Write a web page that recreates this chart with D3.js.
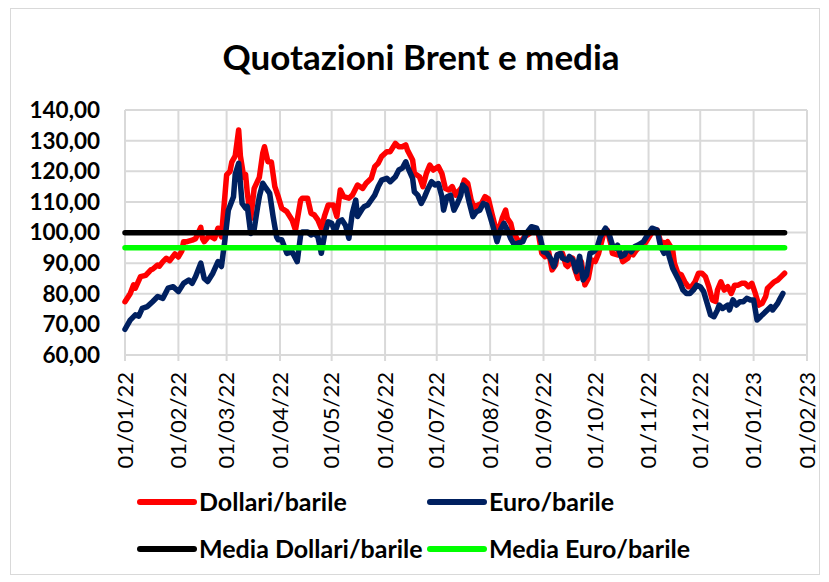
<!DOCTYPE html>
<html><head><meta charset="utf-8">
<script src="https://cdn.jsdelivr.net/npm/d3@7"></script>
<style>body{margin:0;background:#fff}svg{display:block}text{font-family:Lato,"Open Sans",sans-serif}</style>
</head><body>
<svg id="c" width="829" height="582"></svg>
<script>
const titleText = "Quotazioni Brent e media";
const yTicks = [60,70,80,90,100,110,120,130,140];
const seriesNames = ["Dollari/barile","Euro/barile","Media Dollari/barile","Media Euro/barile"];
const seriesColors = ["#ff0000","#002060","#000000","#00ff00"];
const meanUsd = 99.9;
const meanEur = 95.0;
const usdDates = ["2022-01-01","2022-01-04","2022-01-06","2022-01-07","2022-01-10","2022-01-13","2022-01-16","2022-01-17","2022-01-20","2022-01-21","2022-01-23","2022-01-25","2022-01-27","2022-01-30","2022-02-01","2022-02-03","2022-02-04","2022-02-06","2022-02-09","2022-02-11","2022-02-14","2022-02-15","2022-02-16","2022-02-19","2022-02-22","2022-02-24","2022-02-26","2022-02-28","2022-03-01","2022-03-03","2022-03-04","2022-03-06","2022-03-08","2022-03-09","2022-03-11","2022-03-12","2022-03-13","2022-03-15","2022-03-17","2022-03-20","2022-03-22","2022-03-23","2022-03-25","2022-03-27","2022-03-29","2022-03-31","2022-04-02","2022-04-05","2022-04-08","2022-04-10","2022-04-13","2022-04-14","2022-04-17","2022-04-19","2022-04-21","2022-04-23","2022-04-25","2022-04-27","2022-04-29","2022-05-02","2022-05-04","2022-05-06","2022-05-08","2022-05-11","2022-05-13","2022-05-16","2022-05-19","2022-05-21","2022-05-24","2022-05-26","2022-05-28","2022-05-30","2022-06-02","2022-06-04","2022-06-07","2022-06-09","2022-06-11","2022-06-13","2022-06-14","2022-06-17","2022-06-18","2022-06-21","2022-06-23","2022-06-25","2022-06-27","2022-06-29","2022-07-02","2022-07-04","2022-07-06","2022-07-08","2022-07-10","2022-07-12","2022-07-13","2022-07-16","2022-07-17","2022-07-19","2022-07-21","2022-07-23","2022-07-25","2022-07-27","2022-07-29","2022-07-31","2022-08-02","2022-08-04","2022-08-06","2022-08-08","2022-08-10","2022-08-11","2022-08-13","2022-08-14","2022-08-17","2022-08-18","2022-08-21","2022-08-24","2022-08-27","2022-08-29","2022-08-31","2022-09-02","2022-09-04","2022-09-06","2022-09-08","2022-09-09","2022-09-12","2022-09-14","2022-09-15","2022-09-18","2022-09-19","2022-09-21","2022-09-23","2022-09-25","2022-09-27","2022-09-29","2022-10-01","2022-10-03","2022-10-06","2022-10-08","2022-10-10","2022-10-11","2022-10-14","2022-10-15","2022-10-17","2022-10-20","2022-10-21","2022-10-23","2022-10-25","2022-10-27","2022-10-30","2022-11-02","2022-11-04","2022-11-06","2022-11-08","2022-11-11","2022-11-12","2022-11-15","2022-11-16","2022-11-18","2022-11-20","2022-11-22","2022-11-24","2022-11-26","2022-11-28","2022-11-30","2022-12-02","2022-12-04","2022-12-06","2022-12-08","2022-12-10","2022-12-11","2022-12-13","2022-12-15","2022-12-17","2022-12-19","2022-12-21","2022-12-23","2022-12-25","2022-12-27","2022-12-29","2022-12-31","2023-01-02","2023-01-04","2023-01-06","2023-01-08","2023-01-09","2023-01-12","2023-01-13","2023-01-15","2023-01-17","2023-01-19"];
const usdValues = [77.4,80.0,82.9,81.8,85.6,86.0,87.8,88.0,89.4,89.0,90.5,91.6,90.8,93.0,92.0,94.0,97.0,97.0,97.5,98.0,101.7,98.0,97.0,99.0,98.0,101.4,98.6,112.0,118.8,120.0,123.0,125.0,133.5,125.0,118.0,119.0,113.0,104.5,114.4,118.0,126.0,128.0,123.1,123.0,115.0,111.7,107.9,106.8,104.1,100.8,110.6,111.2,111.2,106.3,105.7,104.1,101.4,105.7,109.0,109.0,105.2,113.9,111.7,111.2,112.2,115.5,114.4,116.1,117.7,121.5,122.6,124.8,126.4,126.4,129.1,128.0,128.0,128.6,126.9,123.7,119.3,118.2,115.0,119.3,122.0,120.4,121.5,119.3,114.4,113.9,115.0,112.2,113.0,115.0,117.1,116.1,110.6,107.9,109.0,109.5,111.7,111.0,106.3,101.9,100.8,104.6,107.3,104.6,103.0,100.5,97.6,96.5,98.6,99.7,101.4,99.7,93.2,92.1,93.7,87.8,89.4,92.7,93.2,89.4,88.9,91.6,88.3,85.0,90.5,82.9,85.0,91.0,90.5,93.2,99.7,100.8,96.5,93.2,92.7,94.3,90.5,91.6,93.2,92.7,94.3,95.4,96.5,99.2,100.8,100.8,97.0,96.5,97.0,94.3,90.0,86.7,86.2,83.9,82.3,82.3,83.9,86.7,86.7,85.6,82.3,78.0,77.5,81.2,83.9,81.2,82.3,80.1,82.8,82.8,83.4,83.4,82.3,83.4,80.1,76.3,76.9,79.1,81.7,83.4,83.9,84.5,85.6,86.7];
const eurDates = ["2022-01-01","2022-01-04","2022-01-07","2022-01-09","2022-01-11","2022-01-14","2022-01-17","2022-01-20","2022-01-23","2022-01-26","2022-01-29","2022-02-01","2022-02-04","2022-02-07","2022-02-09","2022-02-11","2022-02-14","2022-02-16","2022-02-18","2022-02-21","2022-02-24","2022-02-26","2022-02-28","2022-03-02","2022-03-05","2022-03-06","2022-03-08","2022-03-10","2022-03-12","2022-03-13","2022-03-15","2022-03-17","2022-03-19","2022-03-20","2022-03-22","2022-03-24","2022-03-26","2022-03-28","2022-03-30","2022-03-31","2022-04-02","2022-04-05","2022-04-08","2022-04-11","2022-04-13","2022-04-14","2022-04-17","2022-04-19","2022-04-21","2022-04-23","2022-04-25","2022-04-27","2022-04-29","2022-05-01","2022-05-03","2022-05-05","2022-05-07","2022-05-09","2022-05-11","2022-05-13","2022-05-15","2022-05-16","2022-05-19","2022-05-20","2022-05-22","2022-05-24","2022-05-26","2022-05-28","2022-05-30","2022-06-02","2022-06-04","2022-06-07","2022-06-09","2022-06-11","2022-06-13","2022-06-14","2022-06-17","2022-06-18","2022-06-20","2022-06-22","2022-06-24","2022-06-26","2022-06-28","2022-06-30","2022-07-02","2022-07-04","2022-07-05","2022-07-07","2022-07-09","2022-07-11","2022-07-13","2022-07-15","2022-07-16","2022-07-18","2022-07-20","2022-07-22","2022-07-24","2022-07-26","2022-07-28","2022-07-30","2022-08-01","2022-08-03","2022-08-05","2022-08-07","2022-08-09","2022-08-11","2022-08-13","2022-08-15","2022-08-17","2022-08-20","2022-08-22","2022-08-25","2022-08-28","2022-08-30","2022-09-01","2022-09-03","2022-09-05","2022-09-07","2022-09-09","2022-09-11","2022-09-12","2022-09-15","2022-09-16","2022-09-18","2022-09-20","2022-09-22","2022-09-24","2022-09-26","2022-09-28","2022-09-30","2022-10-02","2022-10-04","2022-10-07","2022-10-09","2022-10-11","2022-10-13","2022-10-14","2022-10-16","2022-10-18","2022-10-20","2022-10-22","2022-10-24","2022-10-26","2022-10-29","2022-11-01","2022-11-03","2022-11-06","2022-11-08","2022-11-10","2022-11-12","2022-11-13","2022-11-15","2022-11-17","2022-11-19","2022-11-21","2022-11-23","2022-11-25","2022-11-27","2022-11-29","2022-12-01","2022-12-03","2022-12-05","2022-12-07","2022-12-09","2022-12-11","2022-12-12","2022-12-14","2022-12-17","2022-12-18","2022-12-20","2022-12-22","2022-12-24","2022-12-26","2022-12-28","2022-12-30","2023-01-01","2023-01-03","2023-01-05","2023-01-06","2023-01-09","2023-01-11","2023-01-12","2023-01-15","2023-01-16","2023-01-18"];
const eurValues = [68.4,71.4,73.1,72.7,75.2,75.8,77.4,79.1,78.5,81.8,82.3,80.7,83.4,84.5,83.4,85.6,90.0,85.0,84.0,86.7,90.5,88.9,97.6,107.3,111.7,119.0,122.6,109.5,108.0,108.5,99.7,101.0,108.4,111.7,116.1,114.4,112.8,105.2,98.6,97.6,97.6,93.2,93.7,90.5,99.2,100.2,100.2,99.2,99.7,98.6,93.2,99.7,103.5,103.0,100.2,103.5,104.1,102.4,98.1,106.3,110.6,105.2,107.9,108.5,109.0,110.6,112.2,114.9,117.1,117.7,116.6,118.2,120.4,121.0,123.1,121.5,117.7,113.3,112.2,109.5,111.7,114.4,116.6,115.5,116.0,111.7,107.3,111.7,112.2,107.3,109.5,112.2,115.5,114.4,109.5,105.2,106.8,107.3,109.5,109.0,105.2,101.4,97.0,100.8,103.0,100.8,98.0,96.0,96.5,97.0,99.7,101.9,101.4,98.6,93.7,93.2,91.6,88.8,92.7,93.2,91.6,91.0,92.2,91.0,87.2,92.2,84.5,86.1,93.2,93.7,94.9,98.6,101.4,99.7,95.9,94.9,95.9,92.2,92.7,94.9,93.7,95.4,95.9,97.0,99.7,101.4,100.8,95.4,93.2,94.3,92.1,88.3,86.1,83.9,81.2,80.1,80.1,81.2,82.8,82.3,80.7,76.9,73.1,72.5,74.7,76.3,75.2,76.3,74.7,78.0,76.3,77.4,77.4,78.5,78.0,78.0,71.4,72.5,73.1,74.7,75.8,74.7,76.9,78.0,80.1];

const parse = d3.utcParse("%Y-%m-%d");
const usd = usdDates.map((d,i)=>({date:parse(d), v:usdValues[i]}));
const eur = eurDates.map((d,i)=>({date:parse(d), v:eurValues[i]}));
const start = parse("2022-01-01"), end = parse("2023-02-01");

const svg = d3.select("#c");
svg.append("rect").attr("x",10.5).attr("y",8.5).attr("width",809).attr("height",566)
  .attr("fill","#fff").attr("stroke","#d9d9d9").attr("stroke-width",1);

const x = d3.scaleUtc().domain([start,end]).range([125,807]);
const y = d3.scaleLinear().domain([60,140]).range([355,110]);
const months = d3.utcMonth.range(start, d3.utcDay.offset(end,1));

// grid
svg.append("g").selectAll("line").data(yTicks).join("line")
  .attr("x1",125).attr("x2",807).attr("y1",d=>y(d)).attr("y2",d=>y(d))
  .attr("stroke","#d9d9d9").attr("stroke-width",2);
svg.append("g").selectAll("line").data(months).join("line")
  .attr("x1",d=>x(d)).attr("x2",d=>x(d)).attr("y1",110).attr("y2",361)
  .attr("stroke","#d9d9d9").attr("stroke-width",2);

// y labels
svg.append("g").selectAll("text").data(yTicks).join("text")
  .attr("x",100).attr("y",d=>y(d)).attr("dy","0.35em").attr("text-anchor","end")
  .attr("font-size",22.5).attr("font-weight",700).attr("fill","#000")
  .text(d=>d3.format(".2f")(d).replace(".",","));

// x labels
const fmt = d3.utcFormat("%d/%m/%y");
svg.append("g").selectAll("text").data(months).join("text")
  .attr("transform",d=>`translate(${x(d)},372) rotate(-90)`)
  .attr("text-anchor","end").attr("dy","0.35em")
  .attr("font-size",22).attr("fill","#000")
  .text(d=>fmt(d));

// lines
const line = d3.line().x(d=>x(d.date)).y(d=>y(d.v));
const lastDate = usd[usd.length-1].date;
const series = [usd, eur, [{date:start,v:meanUsd},{date:lastDate,v:meanUsd}], [{date:start,v:meanEur},{date:lastDate,v:meanEur}]];
series.forEach((s,i)=>{
  svg.append("path").datum(s).attr("d",line).attr("fill","none")
    .attr("stroke",seriesColors[i]).attr("stroke-width",5.5)
    .attr("stroke-linejoin","round").attr("stroke-linecap","round");
});

// title
svg.append("text").attr("x",421).attr("y",70).attr("text-anchor","middle")
  .attr("font-size",35).attr("font-weight",700).attr("fill","#000").text(titleText);

// legend
const legPos = [[140,502],[430,502],[140,549],[430,549]];
seriesNames.forEach((n,i)=>{
  const [lx,ly] = legPos[i];
  svg.append("line").attr("x1",lx).attr("x2",lx+54).attr("y1",ly).attr("y2",ly)
    .attr("stroke",seriesColors[i]).attr("stroke-width",6).attr("stroke-linecap","round");
  svg.append("text").attr("x",lx+59).attr("y",ly).attr("dy","0.35em")
    .attr("font-size",25).attr("font-weight",700).attr("fill","#000").text(n);
});
</script>
</body></html>
